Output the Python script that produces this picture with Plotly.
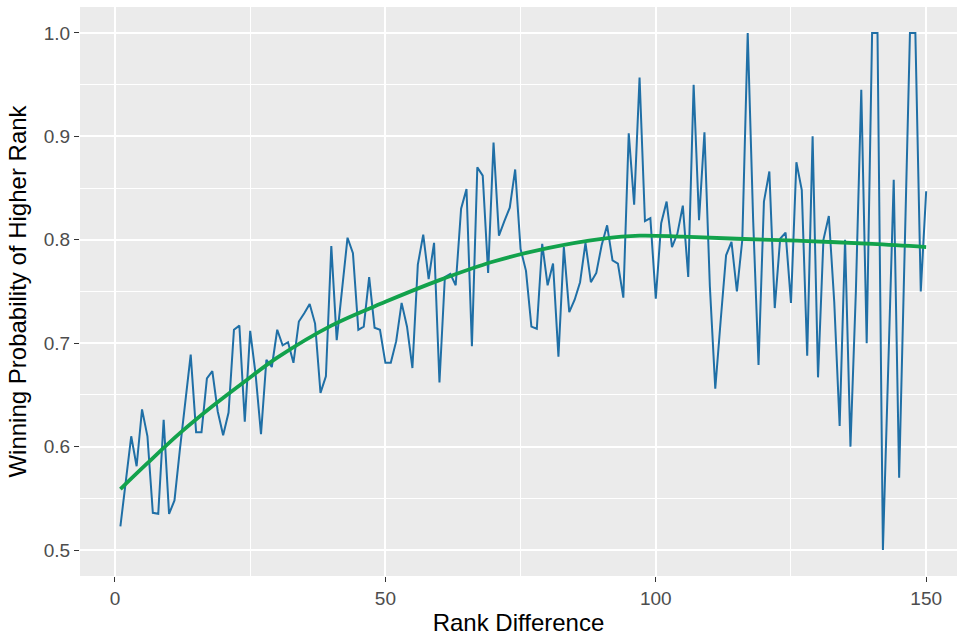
import plotly.graph_objects as go

rank_diff = list(range(1, 151))
win_prob = [
    0.523, 0.567, 0.610, 0.581, 0.636, 0.610, 0.536, 0.535, 0.626, 0.535,
    0.548, 0.597, 0.645, 0.689, 0.614, 0.614, 0.666, 0.673, 0.634, 0.611,
    0.633, 0.713, 0.717, 0.624, 0.712, 0.670, 0.612, 0.684, 0.677, 0.713,
    0.698, 0.701, 0.681, 0.721, 0.729, 0.738, 0.719, 0.652, 0.668, 0.794,
    0.703, 0.752, 0.802, 0.787, 0.713, 0.716, 0.764, 0.715, 0.713, 0.681,
    0.681, 0.702, 0.739, 0.716, 0.676, 0.776, 0.805, 0.762, 0.797, 0.662,
    0.764, 0.767, 0.756, 0.830, 0.849, 0.697, 0.870, 0.862, 0.768, 0.894,
    0.804, 0.818, 0.831, 0.868, 0.791, 0.770, 0.716, 0.714, 0.796, 0.756,
    0.777, 0.687, 0.793, 0.730, 0.742, 0.759, 0.797, 0.759, 0.768, 0.795,
    0.814, 0.780, 0.777, 0.744, 0.903, 0.834, 0.957, 0.818, 0.821, 0.743,
    0.816, 0.837, 0.793, 0.806, 0.833, 0.764, 0.950, 0.819, 0.904, 0.755,
    0.656, 0.722, 0.785, 0.798, 0.750, 0.800, 1.000, 0.820, 0.679, 0.837,
    0.866, 0.734, 0.801, 0.807, 0.739, 0.875, 0.848, 0.688, 0.900, 0.667,
    0.800, 0.823, 0.740, 0.620, 0.800, 0.600, 0.750, 0.945, 0.700, 1.000,
    1.000, 0.500, 0.680, 0.858, 0.570, 0.790, 1.000, 1.000, 0.750, 0.847,
]

smooth_x = [1, 6, 12, 18, 24, 30, 40, 50, 60, 70, 80, 90, 97, 105, 115, 127, 140, 150]
smooth_y = [0.559, 0.584, 0.613, 0.639, 0.663, 0.686, 0.717, 0.740, 0.761, 0.779,
            0.792, 0.801, 0.804, 0.803, 0.801, 0.799, 0.796, 0.793]

x_ticks = [0, 50, 100, 150]
y_ticks = [0.5, 0.6, 0.7, 0.8, 0.9, 1.0]
y_tick_labels = ["0.5", "0.6", "0.7", "0.8", "0.9", "1.0"]

fig = go.Figure()
fig.add_trace(go.Scatter(x=rank_diff, y=win_prob, mode="lines",
                         line=dict(color="#1f6fa6", width=2.0), showlegend=False))
fig.add_trace(go.Scatter(x=smooth_x, y=smooth_y, mode="lines",
                         line=dict(color="#12a24c", width=3.8, shape="spline", smoothing=1.0),
                         showlegend=False))

fig.update_layout(
    width=957, height=637,
    margin=dict(l=80, r=0, t=7, b=61),
    paper_bgcolor="white", plot_bgcolor="#EBEBEB",
    font=dict(family="Liberation Sans, Arial, sans-serif"),
)
fig.update_xaxes(
    range=[-6.47, 155.7], tickvals=x_ticks, ticktext=[str(v) for v in x_ticks],
    showgrid=True, gridcolor="white", gridwidth=1.6, zeroline=False,
    ticks="outside", ticklen=5, tickcolor="#333333", tickwidth=1.2,
    tickfont=dict(size=19, color="#4D4D4D"),
    minor=dict(tickvals=[25, 75, 125], showgrid=True, gridcolor="white", gridwidth=0.8, ticks=""),
    title=dict(text="Rank Difference", font=dict(size=24, color="black"), standoff=6),
    showline=False,
)
fig.update_yaxes(
    range=[0.4749, 1.0251], tickvals=y_ticks, ticktext=y_tick_labels,
    showgrid=True, gridcolor="white", gridwidth=1.6, zeroline=False,
    ticks="outside", ticklen=5, tickcolor="#333333", tickwidth=1.2,
    tickfont=dict(size=19, color="#4D4D4D"),
    minor=dict(tickvals=[0.55, 0.65, 0.75, 0.85, 0.95], showgrid=True, gridcolor="white", gridwidth=0.8, ticks=""),
    title=dict(text="Winning Probability of Higher Rank", font=dict(size=24, color="black"), standoff=10),
    showline=False,
)

fig.write_html("out.html")
